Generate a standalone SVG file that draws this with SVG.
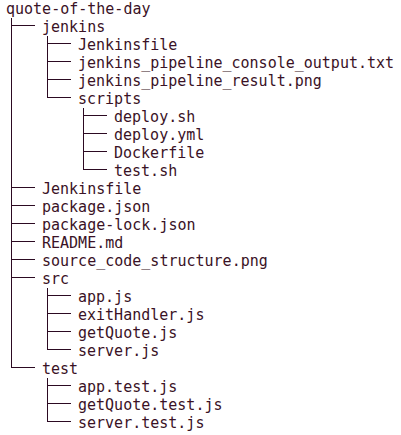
<svg xmlns="http://www.w3.org/2000/svg" width="401" height="435" viewBox="0 0 401 435">
<style>
text{font-family:"DejaVu Sans Mono","Liberation Mono",monospace;font-size:15px;fill:#3a1226;}
.c path{stroke:#2c0a22;stroke-width:1;fill:none;}
</style>
<rect width="401" height="435" fill="#ffffff"/>
<g class="c" id="connectors">
<path d="M11.5 18V368"/>
<path d="M47.5 36V98"/>
<path d="M83.5 108V170"/>
<path d="M47.5 288V350"/>
<path d="M47.5 378V422"/>
<path d="M11 25.5H35M11 187.5H35M11 205.5H35M11 223.5H35M11 241.5H35M11 259.5H35M11 277.5H35M11 367.5H35"/>
<path d="M47 43.5H71M47 61.5H71M47 79.5H71M47 97.5H71"/>
<path d="M83 115.5H107M83 133.5H107M83 151.5H107M83 169.5H107"/>
<path d="M47 295.5H71M47 313.5H71M47 331.5H71M47 349.5H71"/>
<path d="M47 385.5H71M47 403.5H71M47 421.5H71"/>
</g>
<g id="root"><text x="6" y="14">quote-of-the-day</text></g>
<g id="jenkins"><text x="42" y="32">jenkins</text></g>
<g id="jenkins-Jenkinsfile"><text x="78" y="50">Jenkinsfile</text></g>
<g id="console-output"><text x="78" y="68">jenkins_pipeline_console_output.txt</text></g>
<g id="pipeline-result"><text x="78" y="86">jenkins_pipeline_result.png</text></g>
<g id="scripts"><text x="78" y="104">scripts</text></g>
<g id="deploy-sh"><text x="114" y="122">deploy.sh</text></g>
<g id="deploy-yml"><text x="114" y="140">deploy.yml</text></g>
<g id="dockerfile"><text x="114" y="158">Dockerfile</text></g>
<g id="test-sh"><text x="114" y="176">test.sh</text></g>
<g id="Jenkinsfile"><text x="42" y="194">Jenkinsfile</text></g>
<g id="package-json"><text x="42" y="212">package.json</text></g>
<g id="package-lock"><text x="42" y="230">package-lock.json</text></g>
<g id="readme"><text x="42" y="248">README.md</text></g>
<g id="source-structure"><text x="42" y="266">source_code_structure.png</text></g>
<g id="src"><text x="42" y="284">src</text></g>
<g id="app-js"><text x="78" y="302">app.js</text></g>
<g id="exitHandler"><text x="78" y="320">exitHandler.js</text></g>
<g id="getQuote"><text x="78" y="338">getQuote.js</text></g>
<g id="server-js"><text x="78" y="356">server.js</text></g>
<g id="test"><text x="42" y="374">test</text></g>
<g id="app-test"><text x="78" y="392">app.test.js</text></g>
<g id="getQuote-test"><text x="78" y="410">getQuote.test.js</text></g>
<g id="server-test"><text x="78" y="428">server.test.js</text></g>
</svg>
